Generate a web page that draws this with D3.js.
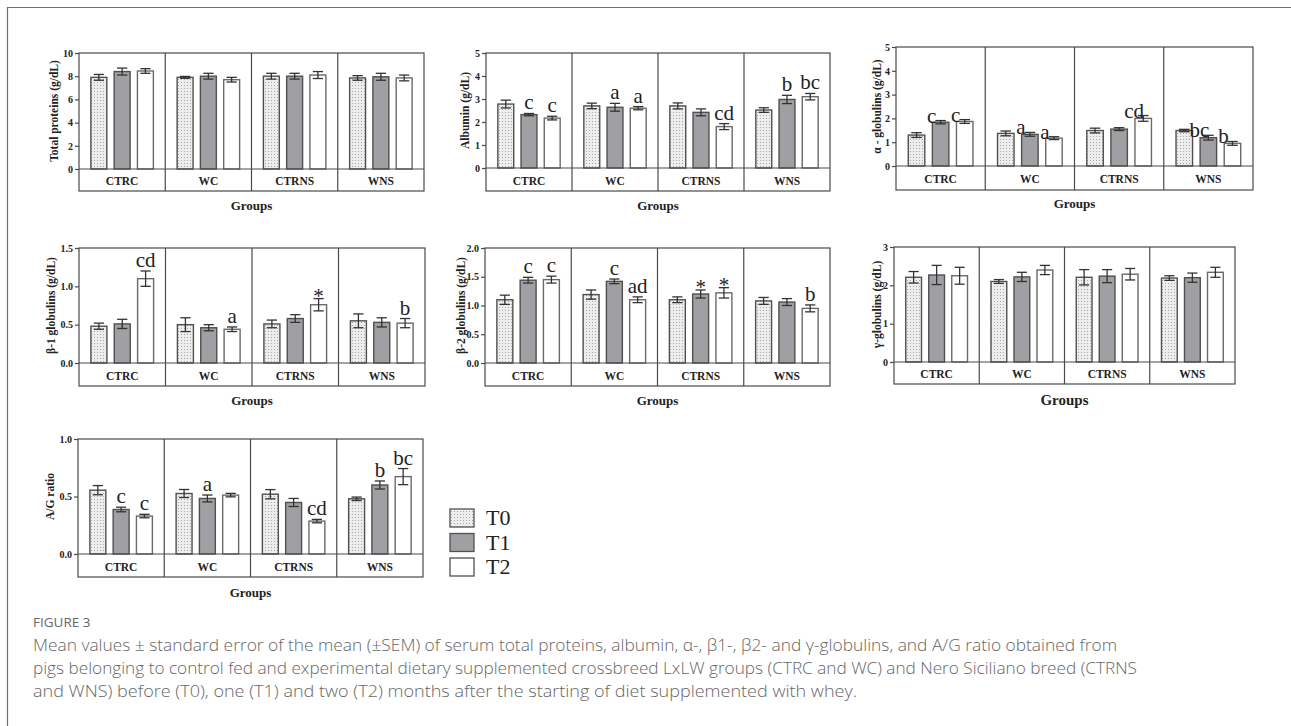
<!DOCTYPE html>
<html>
<head>
<meta charset="utf-8">
<script src="https://cdn.jsdelivr.net/npm/d3@7/dist/d3.min.js"></script>
<style>
  html, body { margin: 0; padding: 0; background: #ffffff; }
  svg { display: block; }
</style>
</head>
<body>
<svg id="chart" width="1291" height="726"></svg>
<script>
// ---------------- DATA ----------------
const groups = ["CTRC", "WC", "CTRNS", "WNS"];
const times = ["T0", "T1", "T2"];

// Total proteins (g/dL) — rows = groups, cols = T0,T1,T2
const totalProteinMeans = [[7.9, 8.4, 8.45], [7.9, 8.0, 7.7], [8.0, 8.0, 8.1], [7.85, 7.95, 7.85]];
const totalProteinSem   = [[0.25, 0.3, 0.2], [0.08, 0.25, 0.2], [0.25, 0.25, 0.3], [0.2, 0.3, 0.25]];
const totalProteinTags  = [["", "", ""], ["", "", ""], ["", "", ""], ["", "", ""]];
const totalProteinTicks = [0, 2, 4, 6, 8, 10];

// Albumin (g/dL)
const albuminMeans = [[2.78, 2.32, 2.17], [2.7, 2.64, 2.6], [2.7, 2.42, 1.8], [2.52, 2.98, 3.1]];
const albuminSem   = [[0.17, 0.05, 0.08], [0.12, 0.17, 0.07], [0.13, 0.15, 0.13], [0.1, 0.18, 0.14]];
const albuminTags  = [["", "c", "c"], ["", "a", "a"], ["", "", "cd"], ["", "b", "bc"]];
const albuminTicks = [0, 1, 2, 3, 4, 5];

// alpha-globulins (g/dL)
const alphaMeans = [[1.3, 1.84, 1.87], [1.37, 1.33, 1.17], [1.49, 1.55, 2.0], [1.49, 1.19, 0.95]];
const alphaSem   = [[0.1, 0.07, 0.08], [0.1, 0.08, 0.06], [0.1, 0.06, 0.12], [0.05, 0.1, 0.08]];
const alphaTags  = [["", "c", "c"], ["", "a", "a"], ["", "", "cd"], ["", "bc", "b"]];
const alphaTicks = [0, 1, 2, 3, 4, 5];

// beta1-globulins (g/dL)
const beta1Means = [[0.48, 0.51, 1.1], [0.5, 0.46, 0.44], [0.51, 0.58, 0.76], [0.55, 0.53, 0.52]];
const beta1Sem   = [[0.04, 0.06, 0.1], [0.09, 0.04, 0.03], [0.05, 0.05, 0.08], [0.09, 0.06, 0.06]];
const beta1Tags  = [["", "", "cd"], ["", "", "a"], ["", "", "*"], ["", "", "b"]];
const beta1Ticks = [0, 0.5, 1.0, 1.5];

// beta2-globulins (g/dL)
const beta2Means = [[1.1, 1.44, 1.45], [1.19, 1.42, 1.1], [1.1, 1.2, 1.22], [1.08, 1.06, 0.95]];
const beta2Sem   = [[0.08, 0.05, 0.06], [0.08, 0.04, 0.05], [0.05, 0.07, 0.09], [0.06, 0.06, 0.06]];
const beta2Tags  = [["", "c", "c"], ["", "c", "ad"], ["", "*", "*"], ["", "", "b"]];
const beta2Ticks = [0, 0.5, 1.0, 1.5, 2.0];

// gamma-globulins (g/dL)
const gammaMeans = [[2.21, 2.27, 2.25], [2.1, 2.22, 2.4], [2.21, 2.24, 2.29], [2.19, 2.2, 2.34]];
const gammaSem   = [[0.15, 0.25, 0.22], [0.05, 0.12, 0.12], [0.2, 0.17, 0.15], [0.06, 0.12, 0.13]];
const gammaTags  = [["", "", ""], ["", "", ""], ["", "", ""], ["", "", ""]];
const gammaTicks = [0, 1, 2, 3];

// A/G ratio
const agMeans = [[0.555, 0.387, 0.33], [0.526, 0.483, 0.512], [0.52, 0.448, 0.286], [0.48, 0.6, 0.673]];
const agSem   = [[0.04, 0.02, 0.015], [0.035, 0.03, 0.015], [0.04, 0.035, 0.015], [0.015, 0.035, 0.07]];
const agTags  = [["", "c", "c"], ["", "a", ""], ["", "", "cd"], ["", "b", "bc"]];
const agTicks = [0, 0.5, 1.0];

const captionLines = [
  "Mean values \u00B1 standard error of the mean (\u00B1SEM) of serum total proteins, albumin, \u03B1-, \u03B21-, \u03B22- and \u03B3-globulins, and A/G ratio obtained from",
  "pigs belonging to control fed and experimental dietary supplemented crossbreed LxLW groups (CTRC and WC) and Nero Siciliano breed (CTRNS",
  "and WNS) before (T0), one (T1) and two (T2) months after the starting of diet supplemented with whey."
];

// ---------------- LAYOUT ----------------
const panels = [
  { label: "Total proteins (g/dL)", means: totalProteinMeans, sem: totalProteinSem, tags: totalProteinTags, ticks: totalProteinTicks, fmt: d3.format("d"),
    x0: 79, x1: 424, top: 53, zero: 169, bottom: 191, ylx: 54, gsize: 13, gdy: 14, ldx: 0, ldy: 0 },
  { label: "Albumin (g/dL)", means: albuminMeans, sem: albuminSem, tags: albuminTags, ticks: albuminTicks, fmt: d3.format("d"),
    x0: 486, x1: 830, top: 53, zero: 168, bottom: 191, ylx: 465, gsize: 13, gdy: 14, ldx: 0, ldy: 0 },
  { label: "\u03B1 - globulins (g/dL)", means: alphaMeans, sem: alphaSem, tags: alphaTags, ticks: alphaTicks, fmt: d3.format("d"),
    x0: 896, x1: 1253, top: 47, zero: 166, bottom: 190, ylx: 877, gsize: 13, gdy: 13, ldx: -9, ldy: 6 },
  { label: "\u03B2-1 globulins (g/dL)", means: beta1Means, sem: beta1Sem, tags: beta1Tags, ticks: beta1Ticks, fmt: d3.format(".1f"),
    x0: 79, x1: 425, top: 248, zero: 363, bottom: 386, ylx: 51, gsize: 13, gdy: 14, ldx: 0, ldy: 0 },
  { label: "\u03B2-2 globulins (g/dL)", means: beta2Means, sem: beta2Sem, tags: beta2Tags, ticks: beta2Ticks, fmt: d3.format(".1f"),
    x0: 485, x1: 830, top: 248, zero: 363, bottom: 386, ylx: 461, gsize: 13, gdy: 14, ldx: 0, ldy: 0 },
  { label: "\u03B3-globulins (g/dL)", means: gammaMeans, sem: gammaSem, tags: gammaTags, ticks: gammaTicks, fmt: d3.format("d"),
    x0: 894, x1: 1235, top: 247, zero: 362, bottom: 384, ylx: 877, gsize: 15, gdy: 16, ldx: 0, ldy: 0 },
  { label: "A/G ratio", means: agMeans, sem: agSem, tags: agTags, ticks: agTicks, fmt: d3.format(".1f"),
    x0: 78, x1: 423, top: 439, zero: 554, bottom: 577, ylx: 50, gsize: 13, gdy: 15, ldx: 0, ldy: 0 }
];

const SERIF = "'Liberation Serif', 'Times New Roman', serif";
const SANS = "'Open Sans', 'Noto Sans', sans-serif";
const LINE = "#4a4a4a";

const svg = d3.select("#chart");

// T0 dotted pattern
const defs = svg.append("defs");
const pat = defs.append("pattern").attr("id", "dots").attr("patternUnits", "userSpaceOnUse")
  .attr("width", 3).attr("height", 3);
pat.append("rect").attr("width", 3).attr("height", 3).attr("fill", "#ededed");
pat.append("rect").attr("x", 1).attr("y", 1).attr("width", 1).attr("height", 1).attr("fill", "#a8a8a8");

const fills = { T0: "url(#dots)", T1: "#a0a0a4", T2: "#ffffff" };
const strokes = { T0: "#505050", T1: "#505050", T2: "#6a6a6a" };

// outer frame
svg.append("line").attr("x1", 7).attr("x2", 1291).attr("y1", 7.5).attr("y2", 7.5).attr("stroke", "#6e6e6e").attr("stroke-width", 1.2);
svg.append("line").attr("x1", 7.5).attr("x2", 7.5).attr("y1", 7).attr("y2", 726).attr("stroke", "#6e6e6e").attr("stroke-width", 1.2);

panels.forEach(p => {
  const g = svg.append("g");
  const y = d3.scaleLinear().domain([0, d3.max(p.ticks)]).range([p.zero, p.top]);
  const gx = d3.scaleBand().domain(groups).range([p.x0, p.x1]).paddingInner(0).paddingOuter(0);
  const tx = d3.scaleBand().domain(times).range([0, gx.bandwidth()]).paddingInner(0.315).paddingOuter(0.51);

  // bars
  groups.forEach((grp, gi) => {
    times.forEach((t, ti) => {
      const v = p.means[gi][ti];
      const e = p.sem[gi][ti];
      const bx = gx(grp) + tx(t);
      const bw = tx.bandwidth();
      g.append("rect")
        .attr("x", bx).attr("y", y(v)).attr("width", bw).attr("height", y(0) - y(v))
        .attr("fill", fills[t]).attr("stroke", strokes[t]).attr("stroke-width", 1.4);
      const cx = bx + bw / 2;
      const cap = bw * 0.32;
      g.append("line").attr("x1", cx).attr("x2", cx).attr("y1", y(v - e)).attr("y2", y(v + e))
        .attr("stroke", "#333").attr("stroke-width", 1.3);
      [v - e, v + e].forEach(yy => {
        g.append("line").attr("x1", cx - cap).attr("x2", cx + cap).attr("y1", y(yy)).attr("y2", y(yy))
          .attr("stroke", "#333").attr("stroke-width", 1.3);
      });
      const tag = p.tags[gi][ti];
      if (tag) {
        const extra = tag === "*" ? 8 : 0;
        g.append("text").attr("x", cx + p.ldx).attr("y", y(v + e) - 4 + p.ldy + extra)
          .attr("text-anchor", "middle").attr("font-family", SERIF).attr("font-size", 21)
          .attr("fill", "#222").text(tag);
      }
    });
  });

  // frame, zero line and dividers
  g.append("rect").attr("x", p.x0).attr("y", p.top).attr("width", p.x1 - p.x0).attr("height", p.bottom - p.top)
    .attr("fill", "none").attr("stroke", LINE).attr("stroke-width", 1.2);
  g.append("line").attr("x1", p.x0).attr("x2", p.x1).attr("y1", y(0)).attr("y2", y(0))
    .attr("stroke", LINE).attr("stroke-width", 1.2);
  groups.slice(1).forEach(grp => {
    g.append("line").attr("x1", gx(grp)).attr("x2", gx(grp)).attr("y1", p.top).attr("y2", p.bottom)
      .attr("stroke", LINE).attr("stroke-width", 1.2);
  });

  // category labels
  groups.forEach(grp => {
    g.append("text").attr("x", gx(grp) + gx.bandwidth() / 2).attr("y", (p.zero + p.bottom) / 2 + 5)
      .attr("text-anchor", "middle").attr("font-family", SERIF).attr("font-weight", "bold")
      .attr("font-size", 11.5).attr("fill", "#222").text(grp);
  });

  // y axis
  const ax = g.append("g").attr("transform", `translate(${p.x0},0)`)
    .call(d3.axisLeft(y).tickValues(p.ticks).tickFormat(p.fmt).tickSize(4).tickPadding(2));
  ax.select(".domain").remove();
  ax.selectAll(".tick line").attr("stroke", LINE).attr("stroke-width", 1.2);
  ax.selectAll(".tick text").attr("font-family", SERIF).attr("font-weight", "bold")
    .attr("font-size", 10).attr("fill", "#222");

  // y label
  g.append("text").attr("transform", `translate(${p.ylx},${(p.top + p.zero) / 2}) rotate(-90)`)
    .attr("text-anchor", "middle").attr("dominant-baseline", "central")
    .attr("font-family", SERIF).attr("font-weight", "bold").attr("font-size", 11.5).attr("fill", "#222")
    .text(p.label);

  // Groups title
  g.append("text").attr("x", (p.x0 + p.x1) / 2).attr("y", p.bottom + p.gdy)
    .attr("text-anchor", "middle").attr("dominant-baseline", "central")
    .attr("font-family", SERIF).attr("font-weight", "bold").attr("font-size", p.gsize).attr("fill", "#222")
    .text("Groups");
});

// legend
const leg = svg.append("g");
const legY = [509, 533.5, 558];
times.forEach((t, i) => {
  leg.append("rect").attr("x", 450).attr("y", legY[i]).attr("width", 24).attr("height", 18)
    .attr("fill", fills[t]).attr("stroke", "#505050").attr("stroke-width", 1.3);
  leg.append("text").attr("x", 486).attr("y", legY[i] + 16)
    .attr("font-family", SERIF).attr("font-size", 22).attr("fill", "#222").text(t);
});

// caption
svg.append("text").attr("x", 33).attr("y", 627).attr("font-family", SANS).attr("font-size", 13.5)
  .attr("font-weight", 500).attr("fill", "#666").text("FIGURE 3");
const lineEnds = [1117, 1137, 857];
captionLines.forEach((s, i) => {
  svg.append("text").attr("x", 33).attr("y", 651 + i * 23)
    .attr("font-family", SANS).attr("font-size", 16).attr("font-weight", 300).attr("fill", "#666")
    .attr("textLength", lineEnds[i] - 33).attr("lengthAdjust", "spacingAndGlyphs")
    .text(s);
});
</script>
</body>
</html>
